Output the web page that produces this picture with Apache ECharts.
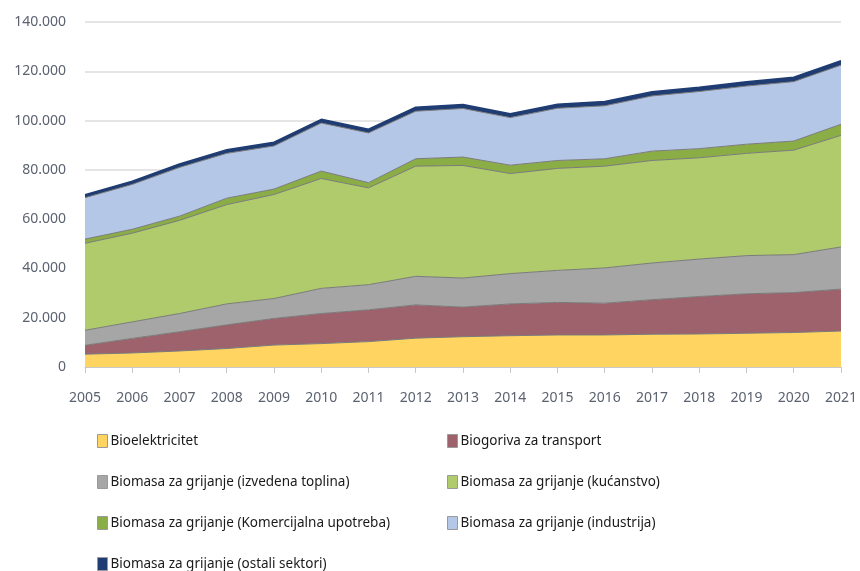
<!DOCTYPE html>
<html>
<head>
<meta charset="utf-8">
<script src="https://cdn.jsdelivr.net/npm/echarts@6/dist/echarts.min.js"></script>
<style>
  html, body { margin: 0; padding: 0; background: #fff; }
  #chart { width: 860px; height: 571px; }
</style>
</head>
<body>
<div id="chart"></div>
<script>
const years = ['2005', '2006', '2007', '2008', '2009', '2010', '2011', '2012', '2013',
  '2014', '2015', '2016', '2017', '2018', '2019', '2020', '2021']

const bioelektricitet = [5200, 5700, 6500, 7500, 8900, 9500, 10300, 11700, 12300, 12700, 13000, 13000, 13300, 13400, 13700, 14000, 14600]
const biogoriva = [3600, 5900, 7800, 9600, 10800, 12200, 12900, 13500, 12000, 12900, 13200, 12900, 14000, 15200, 16000, 16200, 17000]
const izvedenaToplina = [6100, 6700, 7400, 8500, 8100, 10200, 10200, 11600, 11800, 12300, 13000, 14300, 14900, 15200, 15500, 15400, 17100]
const kucanstvo = [35300, 36000, 37800, 40300, 42200, 44600, 39300, 44700, 45700, 40600, 41400, 41300, 41600, 41100, 41500, 42400, 45300]
const komercijalna = [1700, 1600, 1700, 2600, 2200, 3000, 2100, 3000, 3400, 3400, 3200, 3000, 3800, 3700, 3700, 3700, 4500]
const industrija = [16800, 18200, 19800, 18200, 17500, 19500, 20200, 19300, 19700, 19300, 21200, 21500, 22400, 23200, 23600, 24100, 24000]
const ostali = [1200, 1300, 1400, 1500, 1500, 1500, 1500, 1600, 1600, 1600, 1600, 1700, 1700, 1700, 1800, 1800, 1800]

const names = [
  'Bioelektricitet',
  'Biogoriva za transport',
  'Biomasa za grijanje (izvedena toplina)',
  'Biomasa za grijanje (kućanstvo)',
  'Biomasa za grijanje (Komercijalna upotreba)',
  'Biomasa za grijanje (industrija)',
  'Biomasa za grijanje (ostali sektori)'
]
const colors = ['#FFD460', '#9E626C', '#A6A6A6', '#AFCB6B', '#8BAD45', '#B4C7E7', '#1F3D73']
const values = [bioelektricitet, biogoriva, izvedenaToplina, kucanstvo, komercijalna, industrija, ostali]

const chart = echarts.init(document.getElementById('chart'))

const series = values.map((v, i) => ({
  name: names[i],
  type: 'line',
  stack: 'ukupno',
  data: v,
  symbol: 'none',
  color: colors[i],
  lineStyle: {
    width: i === 6 ? 1.5 : 1,
    color: i === 6 ? '#1F3D73' : '#7a7a7a'
  },
  areaStyle: { color: colors[i], opacity: 1 },
  emphasis: { disabled: true }
}))

function legendItems(idx) {
  return idx.map(i => ({ name: names[i], itemStyle: { color: colors[i] } }))
}

const legendBase = {
  orient: 'vertical',
  top: 434,
  padding: 0,
  icon: 'rect',
  itemWidth: 10,
  itemHeight: 13,
  itemGap: 27,
  selectedMode: false,
  itemStyle: { borderColor: '#9a9a9a', borderWidth: 1 },
  textStyle: { fontFamily: '"Noto Sans", sans-serif', fontSize: 13.5, color: '#1a1a1a', padding: [0, 0, 0, -2] }
}

chart.setOption({
  animation: false,
  grid: { left: 85, right: 18, top: 22, bottom: 204 },
  legend: [
    Object.assign({}, legendBase, { left: 97, data: legendItems([0, 2, 4, 6]) }),
    Object.assign({}, legendBase, { left: 447, data: legendItems([1, 3, 5]) })
  ],
  xAxis: {
    type: 'category',
    data: years,
    boundaryGap: false,
    axisLine: { lineStyle: { color: '#c8c8c8' } },
    axisTick: { show: true, length: 6, lineStyle: { color: '#c8c8c8' } },
    axisLabel: {
      margin: 24,
      fontFamily: '"Noto Sans", sans-serif',
      fontSize: 14,
      color: '#5b6270'
    }
  },
  yAxis: {
    type: 'value',
    min: 0,
    max: 140000,
    interval: 20000,
    axisLine: { show: false },
    axisTick: { show: false },
    splitLine: { lineStyle: { color: '#dcdcdc', width: 1.5 } },
    axisLabel: {
      margin: 19,
      fontFamily: '"Noto Sans", sans-serif',
      fontSize: 14,
      color: '#5b6270',
      formatter: v => v === 0 ? '0' : String(v).replace(/\B(?=(\d{3})+(?!\d))/g, '.')
    }
  },
  series: series
})
</script>
</body>
</html>
